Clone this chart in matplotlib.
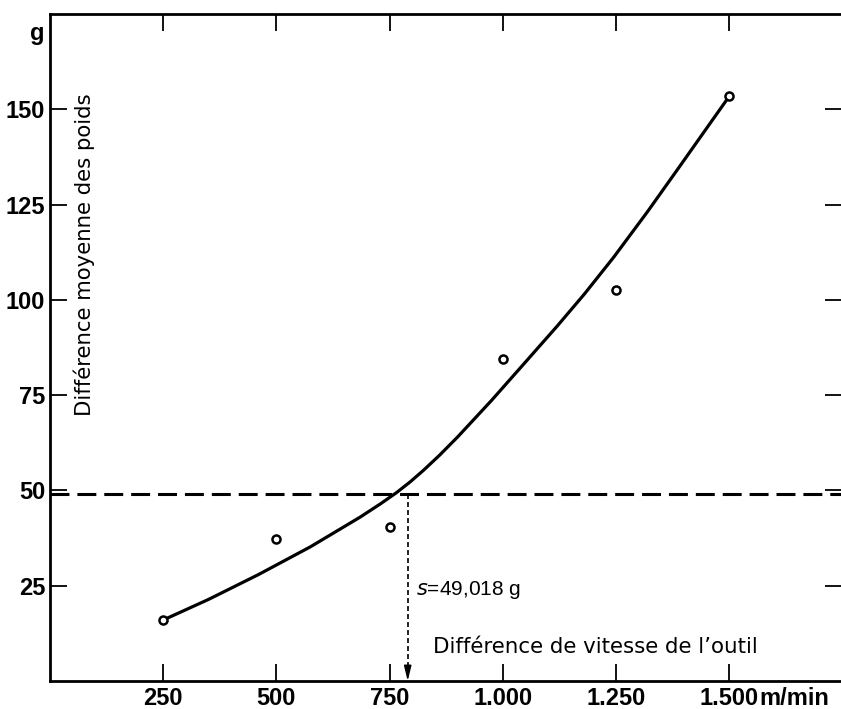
import matplotlib
matplotlib.use("Agg")
import matplotlib.pyplot as plt

# ---- data ----
speed = [250, 500, 750, 1000, 1250, 1500]
weight_diff = [16.1, 37.3, 40.5, 84.6, 102.6, 153.4]

curve_x = [250, 350, 460, 575, 685, 730, 765, 795, 825, 860, 900, 975, 1045,
           1120, 1180, 1245, 1320, 1390, 1450, 1500]
curve_y = [16.0, 21.4, 27.9, 35.2, 43.0, 46.5, 49.4, 52.2, 55.3, 59.2, 64.0,
           73.6, 83.0, 93.1, 101.5, 111.2, 123.2, 134.9, 145.0, 153.4]

s_value = 49.018
s_speed = 790

x_ticks = [250, 500, 750, 1000, 1250, 1500]
x_ticklabels = ["250", "500", "750", "1.000", "1.250", "1.500"]
y_ticks = [25, 50, 75, 100, 125, 150]
y_ticklabels = ["25", "50", "75", "100", "125", "150"]

W, H = 841, 709
fig = plt.figure(figsize=(W / 100, H / 100), dpi=100)
ax = fig.add_axes([50 / W, 28 / H, 792.4 / W, 667 / H])
ax.set_xlim(0, 1750)
ax.set_ylim(0, 175)

tick_font = dict(family=["Liberation Sans", "DejaVu Sans"], weight="bold", size=17)
label_font = dict(family=["DejaVu Sans"], size=15.4)

for sp in ax.spines.values():
    sp.set_linewidth(2.0)

ax.set_xticks(x_ticks)
ax.set_xticklabels(x_ticklabels, **tick_font)
ax.set_yticks(y_ticks)
ax.set_yticklabels(y_ticklabels, **tick_font)
ax.tick_params(axis="both", direction="in", length=12.5, width=1.3,
               top=True, right=True)
ax.tick_params(axis="x", pad=4)
ax.tick_params(axis="y", pad=3.5)

# unit labels
ax.annotate("m/min", xy=(1567, 0), xycoords=("data", "axes fraction"),
            xytext=(0, -4), textcoords="offset points",
            ha="left", va="top", **tick_font)
ax.annotate("g", xy=(0, 170), xycoords="data",
            xytext=(-4, 0), textcoords="offset points",
            ha="right", va="center", **tick_font)

# horizontal dashed line (s)
ax.axhline(s_value, color="black", lw=2.2, linestyle=(0, (6.2, 2.6)))

# vertical dashed arrow
ax.plot([s_speed, s_speed], [s_value, 3], color="black", lw=1.2,
        linestyle=(0, (3.0, 1.8)))
ax.annotate("", xy=(s_speed, 0), xytext=(s_speed, 4),
            arrowprops=dict(arrowstyle="-|>,head_length=0.9,head_width=0.22",
                            color="black", lw=1.1, shrinkA=0, shrinkB=0))

# fitted curve
ax.plot(curve_x, curve_y, color="black", lw=2.3, solid_joinstyle="round",
        solid_capstyle="round")

# data points
ax.plot(speed, weight_diff, linestyle="none", marker="o", markersize=5.8,
        markerfacecolor="white", markeredgecolor="black", markeredgewidth=1.8)

# texts
ax.text(808, 24, r"$s$=49,018 g", ha="left", va="center",
        family=["Liberation Sans", "DejaVu Sans"], size=15)
ax.text(846, 8.9, "Différence de vitesse de l’outil", ha="left", va="center",
        **label_font)
ax.text(75, 111.8, "Différence moyenne des poids", ha="center", va="center",
        rotation=90, family=["DejaVu Sans"], size=15.3)

fig.savefig("out.png", dpi=100)
